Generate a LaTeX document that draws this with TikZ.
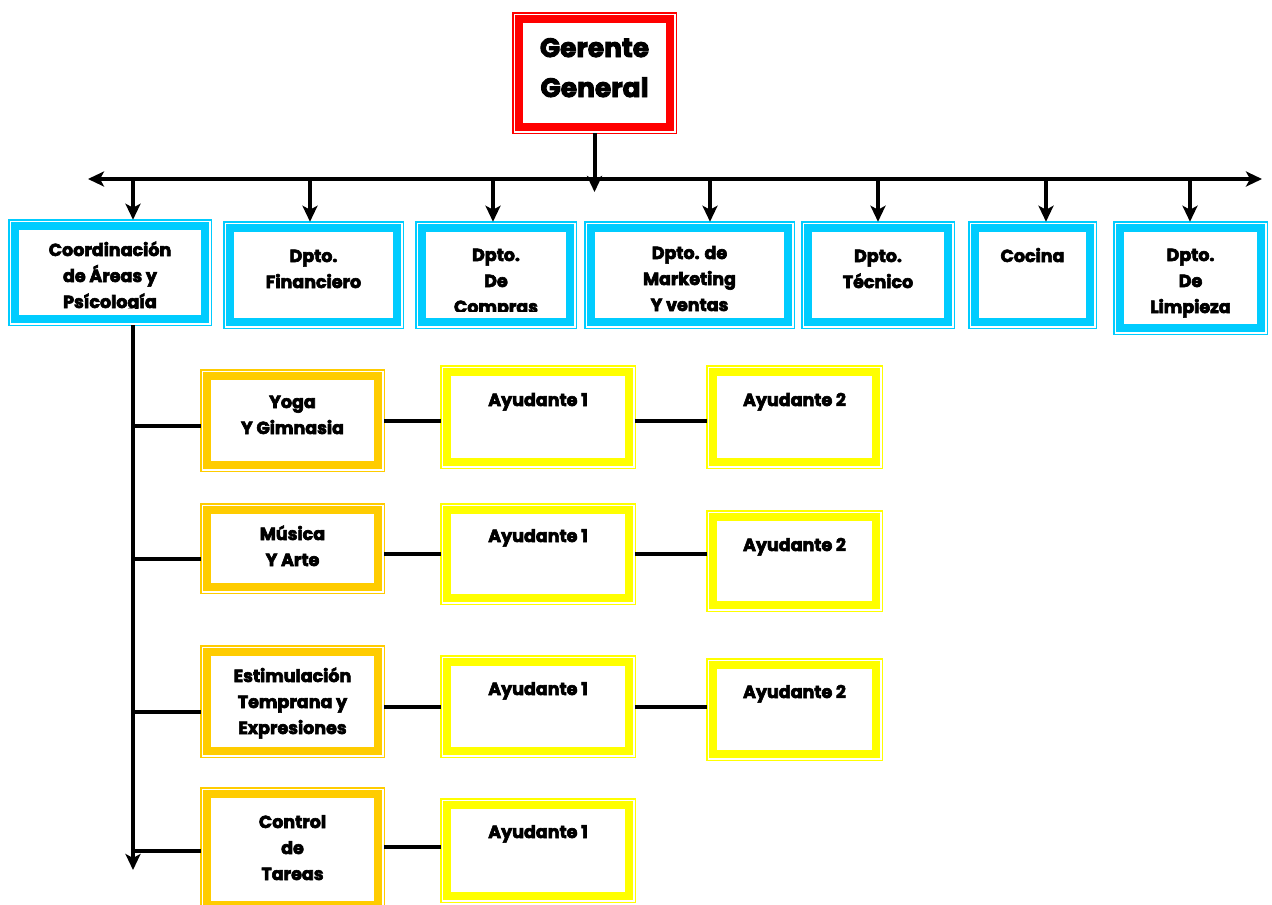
\documentclass[tikz,border=0pt]{standalone}
\usepackage{fontspec}
\setmainfont{Poppins}[BoldFeatures={FakeBold=3.5}]
\usetikzlibrary{arrows.meta,calc}
\definecolor{cred}{HTML}{FF0000}
\definecolor{cblue}{HTML}{00CCFF}
\definecolor{cgold}{HTML}{FFCC00}
\definecolor{cyel}{HTML}{FFFF00}
\tikzset{
  txt/.style={font=\bfseries\fontsize{17.5}{26}\selectfont, align=center, inner sep=0pt},
  bigtxt/.style={font=\bfseries\fontsize{26.5}{40}\selectfont, align=center, inner sep=0pt},
  conn/.style={line width=4pt, draw=black},
  arr/.style={conn, -{Stealth[length=16pt,width=15pt,inset=4pt]}},
  darr/.style={conn, {Stealth[length=16pt,width=15pt,inset=4pt]}-{Stealth[length=16pt,width=15pt,inset=4pt]}}
}
% name, colour, x1, y1, x2, y2, last baseline y, text, text style
\newcommand\obox[9]{%
  \node[draw=#2, line width=1.5pt, fill=white, inner sep=0pt, outer sep=0pt,
        minimum width={(#5-#3)*1pt-1.5pt}, minimum height={(#6-#4)*1pt-1.5pt}]
        (#1) at ({(#3+#5)/2},{(#4+#6)/2}) {};
  \begin{scope}
    \clip ([shift={(8pt,-8pt)}]#1.north west) rectangle ([shift={(-8pt,17pt)}]#1.south east);
    \node[#9, anchor=base] (#1t) at ({(#3+#5)/2},#7) {#8};
  \end{scope}
  \draw[draw=#2, line width=8pt] ([shift={(6.25pt,-6.25pt)}]#1.north west)
        rectangle ([shift={(-6.25pt,6.25pt)}]#1.south east);
}
\begin{document}
\begin{tikzpicture}[x=1pt,y=-1pt]
\useasboundingbox (0,0) rectangle (1272,905);
% top
\obox{ger}{cred}{512}{12}{677}{134}{97}{Gerente\\General}{bigtxt}
% departments
\obox{c1}{cblue}{8}{219}{212}{326}{308}{Coordinación\\de Áreas y\\Psícología}{txt}
\obox{c2}{cblue}{223}{221}{404}{329}{288}{Dpto.\\Financiero}{txt}
\obox{c3}{cblue}{415}{221}{577}{329}{313}{Dpto.\\De\\Compras}{txt}
\obox{c4}{cblue}{584}{221}{795}{329}{311}{Dpto. de\\Marketing\\Y ventas}{txt}
\obox{c5}{cblue}{801}{221}{955}{329}{288}{Dpto.\\Técnico}{txt}
\obox{c6}{cblue}{968}{221}{1097}{329}{262}{Cocina}{txt}
\obox{c7}{cblue}{1113}{221}{1268}{335}{313}{Dpto.\\De\\Limpieza}{txt}
% areas
\obox{g1}{cgold}{200}{369}{385}{472}{434}{Yoga\\Y Gimnasia}{txt}
\obox{g2}{cgold}{200}{503}{385}{594}{566}{Música\\Y Arte}{txt}
\obox{g3}{cgold}{200}{645}{385}{758}{734}{Estimulación\\Temprana y\\Expresiones}{txt}
\obox{g4}{cgold}{200}{787}{385}{912}{880}{Control\\de\\Tareas}{txt}
% helpers
\obox{a11}{cyel}{440}{365}{636}{469}{406}{Ayudante 1}{txt}
\obox{a12}{cyel}{706}{365}{883}{469}{406}{Ayudante 2}{txt}
\obox{a21}{cyel}{440}{503}{636}{605}{542}{Ayudante 1}{txt}
\obox{a22}{cyel}{706}{510}{883}{612}{551}{Ayudante 2}{txt}
\obox{a31}{cyel}{440}{655}{636}{758}{695}{Ayudante 1}{txt}
\obox{a32}{cyel}{706}{658}{883}{761}{698}{Ayudante 2}{txt}
\obox{a41}{cyel}{440}{798}{636}{903}{838}{Ayudante 1}{txt}
% bus
\coordinate (busL) at (88,179);
\coordinate (busR) at (1262,179);
\draw[darr] (busL) -- (busR);
\draw[arr] (ger.south) -- (ger.south |- 0,192);
\foreach \x/\n in {133/c1,310/c2,493/c3,710/c4,878/c5,1046/c6,1190/c7}{
  \coordinate (d\n) at (\x,179);
  \draw[arr] (d\n) -- (d\n |- \n.north);
}
% trunk
\coordinate (trunkend) at (133,870);
\draw[arr] (c1.south -| trunkend) -- (trunkend);
\foreach \y/\n in {426/g1,559/g2,712/g3,851/g4}{
  \draw[conn] (trunkend |- 0,\y) -- (\n.west |- 0,\y);
}
% rows
\foreach \y/\g/\a in {421/g1/a11,554/g2/a21,707/g3/a31,847/g4/a41}{
  \draw[conn] (\g.east |- 0,\y) -- (\a.west |- 0,\y);
}
\foreach \y/\a/\b in {421/a11/a12,554/a21/a22,707/a31/a32}{
  \draw[conn] (\a.east |- 0,\y) -- (\b.west |- 0,\y);
}
\end{tikzpicture}
\end{document}
